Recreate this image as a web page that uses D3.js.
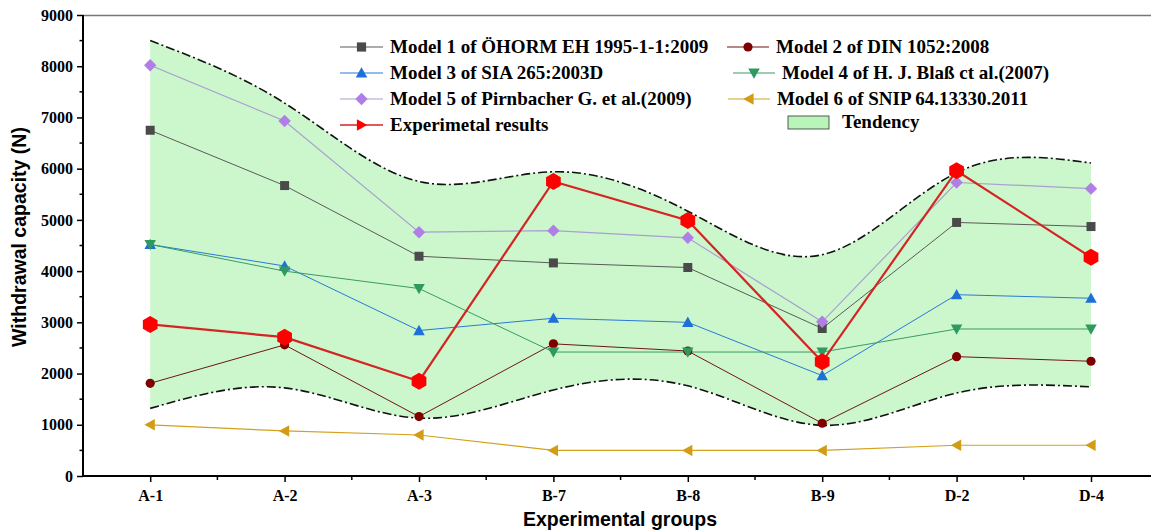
<!DOCTYPE html>
<html>
<head>
<meta charset="utf-8">
<script src="https://cdn.jsdelivr.net/npm/d3@7"></script>
<style>
  html, body { margin: 0; padding: 0; background: #fff; }
  svg { display: block; }
</style>
</head>
<body>
<svg id="chart" width="1151" height="531"></svg>
<script>
// Experimental groups along the x axis
const groups = ["A-1", "A-2", "A-3", "B-7", "B-8", "B-9", "D-2", "D-4"];

// Withdrawal capacity (N) predicted by each model, and the measured values
const model1 = [6750, 5670, 4290, 4160, 4070, 2880, 4950, 4870];
const model2 = [1810, 2560, 1160, 2580, 2440, 1030, 2330, 2240];
const model3 = [4520, 4100, 2840, 3080, 3000, 1960, 3540, 3470];
const model4 = [4520, 4000, 3660, 2420, 2420, 2420, 2870, 2870];
const model5 = [8020, 6930, 4760, 4790, 4650, 3010, 5730, 5610];
const model6 = [1000, 880, 800, 500, 500, 500, 600, 600];
const experimental = [2960, 2710, 1850, 5750, 4990, 2230, 5960, 4270];

// Tendency band: upper and lower bounds at each group
const tendencyUpper = [8500, 7280, 5750, 5940, 5170, 4320, 5920, 6110];
const tendencyLower = [1320, 1720, 1130, 1680, 1760, 990, 1620, 1740];

// Axis ticks
const yTicks = [0, 1000, 2000, 3000, 4000, 5000, 6000, 7000, 8000, 9000];
const yMinorTicks = [500, 1500, 2500, 3500, 4500, 5500, 6500, 7500, 8500];

const series = [
  { name: "Model 1 of ÖHORM EH 1995-1-1:2009", values: model1, line: "#5a5a5a", fill: "#4a4a4a", shape: "square", width: 1 },
  { name: "Model 2 of DIN 1052:2008", values: model2, line: "#6e1515", fill: "#800000", shape: "circle", width: 1 },
  { name: "Model 3 of SIA 265:2003D", values: model3, line: "#2a78d6", fill: "#1f6fd8", shape: "triUp", width: 1 },
  { name: "Model 4 of H. J. Blaß ct al.(2007)", values: model4, line: "#3a9a66", fill: "#2e9a60", shape: "triDown", width: 1 },
  { name: "Model 5 of Pirnbacher G. et al.(2009)", values: model5, line: "#a8a0d0", fill: "#b07ee6", shape: "diamond", width: 1.2 },
  { name: "Model 6 of SNIP 64.13330.2011", values: model6, line: "#d2a21c", fill: "#d29c14", shape: "triLeft", width: 1.2 },
  { name: "Experimetal results", values: experimental, line: "#d42424", fill: "#ff0000", shape: "hexagon", width: 2.2, legendShape: "triRight" }
];

const svg = d3.select("#chart");
const plotLeft = 83, plotTop = 15, plotBottom = 476;
const step = 134.4;

const x = d3.scaleLinear().domain([-0.5, 7.5]).range([plotLeft, plotLeft + 8 * step]);
const y = d3.scaleLinear().domain([0, 9000]).range([plotBottom, plotTop]);

// Marker paths centred on the origin
function markerPath(shape, s) {
  switch (shape) {
    case "square": return `M${-s},${-s}H${s}V${s}H${-s}Z`;
    case "circle": return d3.symbol(d3.symbolCircle, Math.PI * s * s)();
    case "diamond": { const d = s * 1.35; return `M0,${-d}L${d},0L0,${d}L${-d},0Z`; }
    case "triUp": { const d = s * 1.25; return `M0,${-d}L${d},${d * 0.8}L${-d},${d * 0.8}Z`; }
    case "triDown": { const d = s * 1.25; return `M0,${d}L${d},${-d * 0.8}L${-d},${-d * 0.8}Z`; }
    case "triLeft": { const d = s * 1.25; return `M${-d},0L${d * 0.8},${-d}L${d * 0.8},${d}Z`; }
    case "triRight": { const d = s * 1.25; return `M${d},0L${-d * 0.8},${-d}L${-d * 0.8},${d}Z`; }
    case "hexagon": {
      const pts = d3.range(6).map(i => {
        const a = Math.PI / 3 * i - Math.PI / 2;
        return [s * Math.cos(a), s * Math.sin(a)];
      });
      return "M" + pts.map(p => p.join(",")).join("L") + "Z";
    }
  }
}
const markerSize = { square: 4.5, circle: 4.6, diamond: 4.6, triUp: 4.6, triDown: 4.6, triLeft: 4.6, triRight: 4.6, hexagon: 8.5 };

// Tendency band
const idx = d3.range(groups.length);
const band = d3.area()
  .x(i => x(i))
  .y0(i => y(tendencyLower[i]))
  .y1(i => y(tendencyUpper[i]))
  .curve(d3.curveNatural);
svg.append("path").attr("d", band(idx)).attr("fill", "#ccf7cc");

const edge = vals => d3.line().x(i => x(i)).y(i => y(vals[i])).curve(d3.curveNatural)(idx);
[tendencyUpper, tendencyLower].forEach(vals => {
  svg.append("path").attr("d", edge(vals))
    .attr("fill", "none").attr("stroke", "#111").attr("stroke-width", 1.6)
    .attr("stroke-dasharray", "9,3,2,3");
});

// Frame top line
svg.append("line").attr("x1", plotLeft).attr("x2", 1151).attr("y1", plotTop + 0.5).attr("y2", plotTop + 0.5)
  .attr("stroke", "#777").attr("stroke-width", 1.5);

// Axes
const yAxis = d3.axisLeft(y).tickValues(yTicks).tickSize(6).tickPadding(4).tickFormat(d3.format("d"));
const gy = svg.append("g").attr("transform", `translate(${plotLeft},0)`).call(yAxis);
gy.append("g").selectAll("line").data(yMinorTicks).join("line")
  .attr("x1", -3.5).attr("x2", 0).attr("y1", d => y(d)).attr("y2", d => y(d))
  .attr("stroke", "#000").attr("stroke-width", 1.5);

const xAxis = d3.axisBottom(x).tickValues(idx).tickSize(6).tickPadding(8).tickFormat(i => groups[i]);
const gx = svg.append("g").attr("transform", `translate(0,${plotBottom})`).call(xAxis);
gx.append("g").selectAll("line").data(d3.range(0, 8).map(i => i + 0.5)).join("line")
  .attr("x1", d => x(d)).attr("x2", d => x(d)).attr("y1", 0).attr("y2", 4)
  .attr("stroke", "#000").attr("stroke-width", 1.5);
gx.select(".domain").attr("d", `M${plotLeft},0H1151`);
gy.select(".domain").attr("d", `M0,${plotBottom}V${plotTop}`);

[gx, gy].forEach(g => {
  g.select(".domain").attr("stroke", "#000").attr("stroke-width", 2);
  g.selectAll(".tick line").attr("stroke", "#000").attr("stroke-width", 1.5);
  g.selectAll(".tick text").attr("font-family", "'Liberation Serif', 'Times New Roman', serif")
    .attr("font-weight", "bold").attr("font-size", 16).attr("fill", "#000");
});

// Axis titles
svg.append("text").attr("x", 620).attr("y", 526).attr("text-anchor", "middle")
  .attr("font-family", "'Liberation Sans', Arial, sans-serif").attr("font-weight", "bold")
  .attr("font-size", 19.5).text("Experimental groups");
svg.append("text").attr("transform", "translate(26,237) rotate(-90)").attr("text-anchor", "middle")
  .attr("font-family", "'Liberation Sans', Arial, sans-serif").attr("font-weight", "bold")
  .attr("font-size", 19.5).text("Withdrawal capacity (N)");

// Series lines and markers
series.forEach(s => {
  const line = d3.line().x((d, i) => x(i)).y(d => y(d));
  svg.append("path").attr("d", line(s.values)).attr("fill", "none")
    .attr("stroke", s.line).attr("stroke-width", s.width);
});
series.forEach(s => {
  svg.append("g").selectAll("path").data(s.values).join("path")
    .attr("transform", (d, i) => `translate(${x(i)},${y(d)})`)
    .attr("d", markerPath(s.shape, markerSize[s.shape]))
    .attr("fill", s.fill);
});

// Legend
const legendFont = "'Liberation Serif', 'Times New Roman', serif";
const legendPos = [
  [340, 47], [727, 47],
  [340, 73], [733, 73],
  [340, 99], [728, 99],
  [340, 125]
];
series.forEach((s, k) => {
  const [lx, ly] = legendPos[k];
  const g = svg.append("g").attr("transform", `translate(${lx},${ly})`);
  const w = k % 2 === 1 ? 42 : 43;
  g.append("line").attr("x1", 0).attr("x2", w).attr("y1", 0).attr("y2", 0)
    .attr("stroke", s.line).attr("stroke-width", s.shape === "hexagon" ? 1.5 : 1.2);
  const shp = s.legendShape || s.shape;
  g.append("path").attr("transform", `translate(${w / 2},0)`)
    .attr("d", markerPath(shp, 4.6)).attr("fill", s.fill);
  g.append("text").attr("x", w + 7).attr("y", 6).attr("font-family", legendFont)
    .attr("font-weight", "bold").attr("font-size", 19).attr("fill", "#000").text(s.name);
});
const tg = svg.append("g").attr("transform", "translate(788,116)");
tg.append("rect").attr("width", 41).attr("height", 13).attr("fill", "#b9f5b9")
  .attr("stroke", "#333").attr("stroke-width", 0.8);
tg.append("text").attr("x", 54).attr("y", 12).attr("font-family", legendFont)
  .attr("font-weight", "bold").attr("font-size", 19).attr("fill", "#000").text("Tendency");
</script>
</body>
</html>
